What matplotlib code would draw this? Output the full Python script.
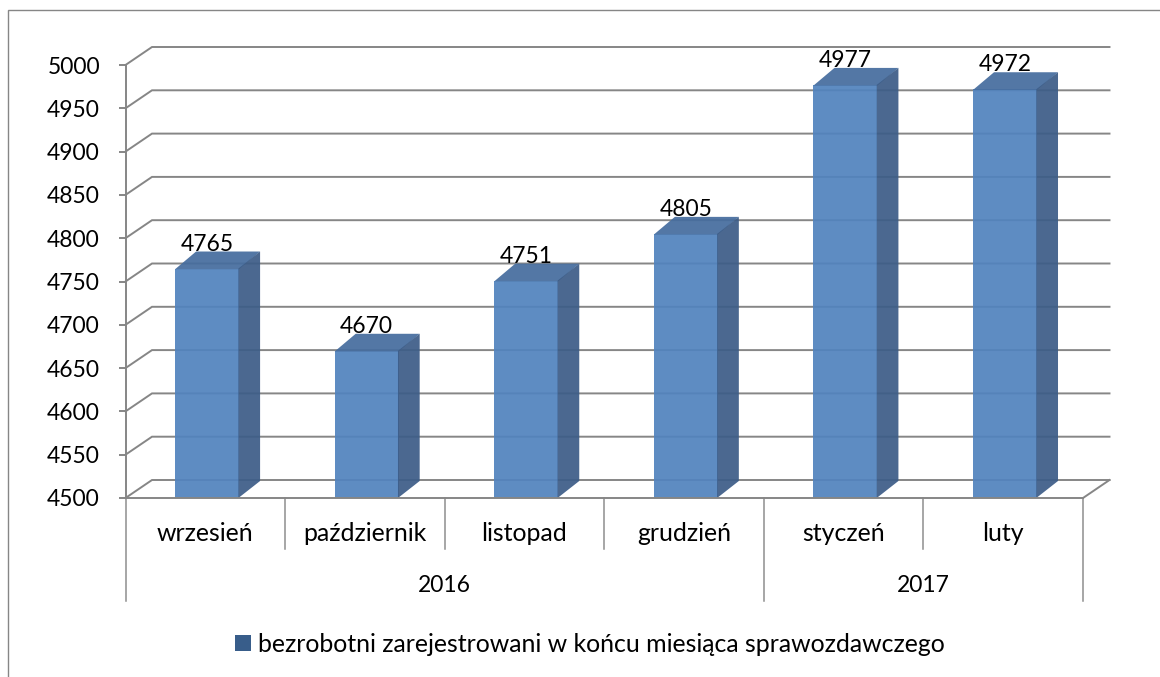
import matplotlib
matplotlib.use("Agg")
import matplotlib.pyplot as plt
from matplotlib.lines import Line2D
from matplotlib.patches import Patch, Polygon
from matplotlib.transforms import blended_transform_factory

plt.rcParams['font.family'] = ['Lato', 'DejaVu Sans']

months = ['wrzesień', 'październik', 'listopad', 'grudzień', 'styczeń', 'luty']
values = [4765, 4670, 4751, 4805, 4977, 4972]
year_labels = ['2016', '2017']
year_spans = [(0, 4), (4, 6)]
y_ticks = [4500, 4550, 4600, 4650, 4700, 4750, 4800, 4850, 4900, 4950, 5000]
legend_label = 'bezrobotni zarejestrowani w końcu miesiąca sprawozdawczego'

W, H = 1160, 677
GREY = '#868686'
FS = 16.5
FS_WORDS = 17.9
LW = 1.4
fig = plt.figure(figsize=(W / 100, H / 100), dpi=100)
L, R, T, B = 125.5, 1083, 65, 498
ax = fig.add_axes([L / W, 1 - B / H, (R - L) / W, (B - T) / H])
ax.set_xlim(0, 6)
ax.set_ylim(4500, 5000)
ax.patch.set_alpha(0)

px_x = 6 / (R - L)
px_y = 500 / (B - T)
wall_dx, wall_dy = 26.5 * px_x, 18 * px_y
depth_dx, depth_dy = 21 * px_x, 17 * px_y
bar_w = 64 * px_x
shift = 1.8 * px_x
lap_x, lap_y = 0.7 * px_x, 0.7 * px_y

# back wall gridlines
for v in y_ticks:
    ax.plot([0, wall_dx, 6 + wall_dx], [v, v + wall_dy, v + wall_dy], color=GREY,
            lw=LW, clip_on=False, zorder=1, solid_joinstyle='miter')
ax.plot([6, 6 + wall_dx], [4500, 4500 + wall_dy], color=GREY, lw=LW, clip_on=False, zorder=1)

# 3D bars
for i, v in enumerate(values):
    x0 = i + 0.5 + shift - bar_w / 2
    x1 = x0 + bar_w
    ax.add_patch(Polygon([(x0, 4500), (x1, 4500), (x1, v), (x0, v)], closed=True,
                         fc='#5283BE', alpha=0.93, ec='none', zorder=3, clip_on=False))
    ax.add_patch(Polygon([(x0, v - lap_y), (x1, v - lap_y), (x1 + depth_dx, v + depth_dy), (x0 + depth_dx, v + depth_dy)],
                         closed=True, fc='#466D9E', alpha=0.93, ec='none', zorder=3.1, clip_on=False))
    ax.add_patch(Polygon([(x1 - lap_x, 4500), (x1 + depth_dx, 4500 + depth_dy), (x1 + depth_dx, v + depth_dy), (x1 - lap_x, v)],
                         closed=True, fc='#3D5D88', alpha=0.93, ec='none', zorder=3.2, clip_on=False))
    ax.annotate(str(v), xy=(i + 0.5 + shift, v), xytext=(0, 18 * 0.72), textcoords='offset points',
                ha='center', va='baseline', fontsize=FS, color='black', zorder=5, annotation_clip=False)

# axes
for s in ['top', 'right']:
    ax.spines[s].set_visible(False)
for s in ['left', 'bottom']:
    ax.spines[s].set_color(GREY)
    ax.spines[s].set_linewidth(LW)
    ax.spines[s].set_zorder(4)
ax.set_yticks(y_ticks)
ax.tick_params(axis='y', length=5.4, width=LW, color=GREY, pad=13, labelsize=FS, labelcolor='black')
ax.set_xticks([i + 0.5 for i in range(len(months))], months)
ax.tick_params(axis='x', length=0, pad=43 * 0.72, labelsize=FS_WORDS, labelcolor='black')
for lab in ax.get_xticklabels():
    lab.set_va('baseline')

# multi-level category separators
tr = blended_transform_factory(ax.transData, fig.transFigure)
def yf(p):
    return 1 - p / H
for x in [1, 2, 3, 5]:
    ax.add_line(Line2D([x, x], [yf(B), yf(549)], transform=tr, color='#8E8E8E', lw=1.1, clip_on=False))
for x in [0, 4, 6]:
    ax.add_line(Line2D([x, x], [yf(B), yf(601)], transform=tr, color='#8E8E8E', lw=1.1, clip_on=False))
for lab, (a, b) in zip(year_labels, year_spans):
    ax.text((a + b) / 2, yf(592), lab, transform=tr, ha='center', va='baseline', fontsize=FS, color='black')

# legend
fig.legend(handles=[Patch(fc='#385D8A', ec='none', label=legend_label)],
           loc='center', bbox_to_anchor=(590 / W, 1 - 644 / H), frameon=False, fontsize=FS_WORDS,
           handlelength=0.64, handleheight=0.64, handletextpad=0.28, borderpad=0)

# chart-area frame
fig.add_artist(Line2D([8 / W, 8 / W, 1], [0, 1 - 10 / H, 1 - 10 / H], transform=fig.transFigure,
                      color=GREY, lw=1.0, solid_joinstyle='miter'))

fig.savefig('out.png', dpi=100)
